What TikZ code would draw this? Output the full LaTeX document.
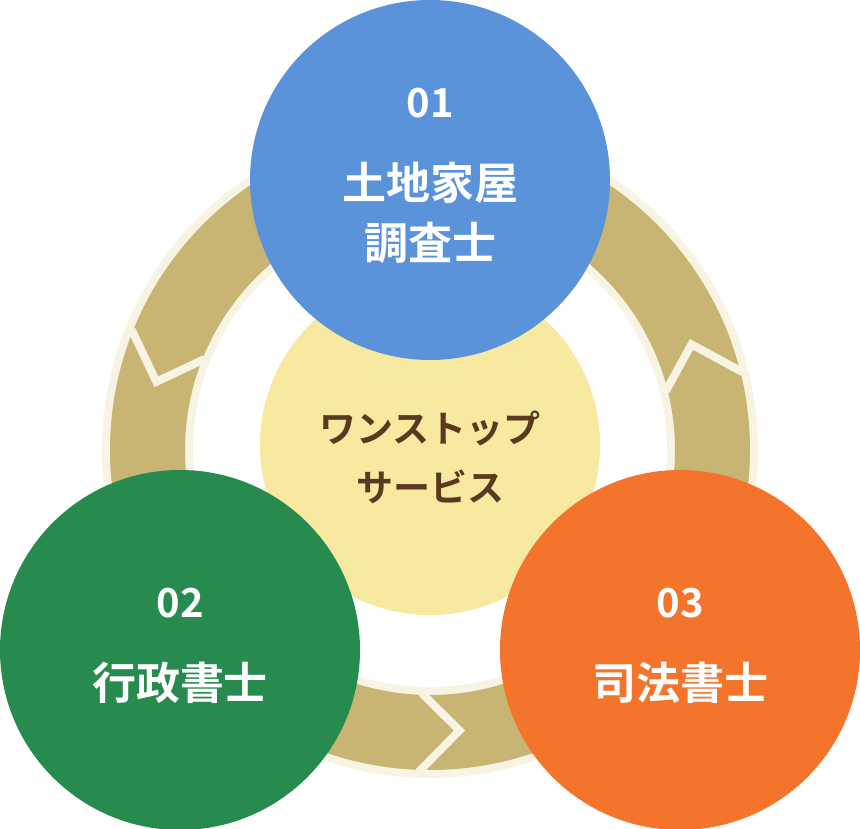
\documentclass[tikz,border=0pt]{standalone}
\usepackage{fontspec}
\usetikzlibrary{calc}
\newfontfamily\jp{Noto Sans CJK JP Bold}
\definecolor{cblue}{HTML}{5B93DB}
\definecolor{cgreen}{HTML}{278B4F}
\definecolor{corange}{HTML}{F4742C}
\definecolor{cyellow}{HTML}{F7E9A0}
\definecolor{ctan}{HTML}{C8B473}
\definecolor{ccream}{HTML}{F8F4E3}
\definecolor{cbrown}{HTML}{5A3A1E}
\begin{document}
\begin{tikzpicture}[x=1pt,y=1pt,
  bigc/.style={circle,minimum size=360pt,inner sep=0pt},
  num/.style={text=white,font=\jp\fontsize{40}{40}\selectfont},
  lab/.style={text=white,font=\jp\fontsize{44}{44}\selectfont},
  mid/.style={text=cbrown,font=\jp\fontsize{37}{37}\selectfont},
  chev/.style={ccream,line width=8pt,line join=miter,line cap=butt}]
\useasboundingbox (0,0) rectangle (860,829);
\coordinate (rc) at (430,379);
% ring
\fill[ccream] (rc) circle (328);
\fill[white] (rc) circle (237);
\fill[ctan,even odd rule] (rc) circle (320) (rc) circle (245);
% chevrons
\foreach \t in {162,272,18}{
  \draw[chev] ($(rc)+(\t-4:322)$) -- ($(rc)+(\t+4:282)$) -- ($(rc)+(\t-4:243)$);
}
\node[bigc,fill=cyellow,minimum size=340pt] (core) at (430,384) {};
\node[bigc,fill=cblue] (a) at (430,649) {};
\node[bigc,fill=cgreen] (b) at (180,179) {};
\node[bigc,fill=corange] (c) at (680,179) {};
\node[num] (a1) at (430,726) {01};
\node[lab] (a2) at (430,646) {土地家屋};
\node[lab] (a3) at (430,586) {調査士};
\node[num] (b1) at (180,226) {02};
\node[lab] (b2) at (180,146) {行政書士};
\node[num] (c1) at (680,226) {03};
\node[lab] (c2) at (680,146) {司法書士};
\node[mid] (m1) at (430,401) {ワンストップ};
\node[mid] (m2) at (430,342) {サービス};
\end{tikzpicture}
\end{document}
